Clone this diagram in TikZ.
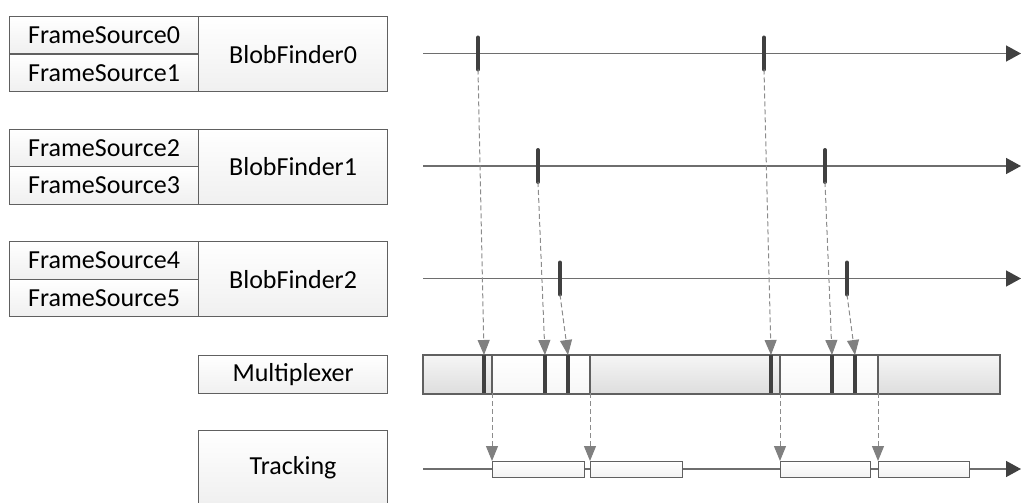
\documentclass[tikz,border=0pt]{standalone}
\usepackage{fontspec}
\setmainfont{Carlito}
\usetikzlibrary{arrows.meta}
\definecolor{edge}{HTML}{606060}
\definecolor{axis}{HTML}{6E6E6E}
\definecolor{tick}{HTML}{404040}
\definecolor{hint}{HTML}{8C8C8C}
\tikzset{
  blk/.style={draw=edge, line width=1.2pt, top color=white, bottom color=black!6,
    inner sep=0pt, font=\fontsize{26}{30}\selectfont, text=black},
  timeline/.style={draw=axis, line width=1.5pt, -{Triangle[length=15pt,width=16pt,fill=tick,color=tick]}},
  event/.style={draw=tick, line width=4pt, line cap=round},
  flow/.style={draw=hint, line width=1pt, dash pattern=on 5pt off 3pt,
    -{Triangle[length=15pt,width=12pt,fill=gray,color=gray]}},
  slot/.style={draw=edge, line width=1.2pt, top color=white, bottom color=black!5},
}
\begin{document}
\begin{tikzpicture}[x=1pt,y=-1pt]
\useasboundingbox (0,0) rectangle (1021,503);

% source / finder groups
\foreach \g/\a/\b/\y in {0/0/1/16, 1/2/3/128.5, 2/4/5/241}{
  \node[blk, minimum width=189pt, minimum height=37.5pt, anchor=north west]
    (fs\a) at (9,\y) {FrameSource\a};
  \node[blk, minimum width=189pt, minimum height=37.5pt, anchor=north west]
    (fs\b) at (9,\y+37.5) {FrameSource\b};
  \node[blk, minimum width=189pt, minimum height=75pt, anchor=north west]
    (bf\g) at (198,\y) {BlobFinder\g};
}
\node[blk, minimum width=189pt, minimum height=38pt, anchor=north west]
  (muxlabel) at (198,355) {Multiplexer};
\node[blk, minimum width=189pt, minimum height=74pt, anchor=north west]
  (tracklabel) at (198,430) {Tracking};

% timelines of the three finders
\foreach \g/\y in {0/53.5, 1/166, 2/278.5}{
  \coordinate (t\g s) at (423,\y);
  \coordinate (t\g e) at (1021,\y);
  \draw[timeline] (t\g s) -- (t\g e);
}

% multiplexer bar
\node[draw=edge, line width=1.2pt, top color=black!4, bottom color=black!13,
  minimum width=576pt, minimum height=38pt, inner sep=0pt, anchor=north west]
  (mux) at (423,355) {};
\shade[top color=white, bottom color=black!3] (492,355.6) rectangle (590,392.4);
\shade[top color=white, bottom color=black!3] (780,355.6) rectangle (878,392.4);
\foreach \x in {492,590,780,878}{
  \draw[edge, line width=1.2pt] (\x,355) -- (\x,393);
}
\draw[edge, line width=1.2pt] (mux.north west) rectangle (mux.south east);

% tracking line and busy slots
\coordinate (trs) at (423,469);
\coordinate (tre) at (1021,469);
\draw[timeline] (trs) -- (tre);
\foreach \n/\l/\r in {1/492/584, 2/590/682, 3/780/870, 4/878/969}{
  \node[slot, minimum width=\r pt-\l pt, minimum height=16pt, inner sep=0pt,
    anchor=north west] (slot\n) at (\l,461) {};
}

% events on the finder timelines and their arrival in the multiplexer
\foreach \n/\x/\y/\m in {a/478/53.5/484, b/764/53.5/771, c/538/166/545,
                         d/825/166/832, e/560/278.5/568, f/847/278.5/855}{
  \coordinate (ev\n top) at (\x,\y-16);
  \coordinate (ev\n) at (\x,\y+16);
  \coordinate (in\n) at (\m,355);
  \coordinate (in\n b) at (\m,393);
  \draw[event] (ev\n top) -- (ev\n);
  \draw[flow] (ev\n) -- (in\n);
  \draw[tick, line width=4pt] (in\n) -- (in\n b);
}

% batches handed to tracking
\foreach \x/\n in {492/1, 590/2, 780/3, 878/4}{
  \coordinate (out\n) at (\x,393);
  \draw[flow] (out\n) -- (slot\n.north west -| out\n);
}
\end{tikzpicture}
\end{document}
